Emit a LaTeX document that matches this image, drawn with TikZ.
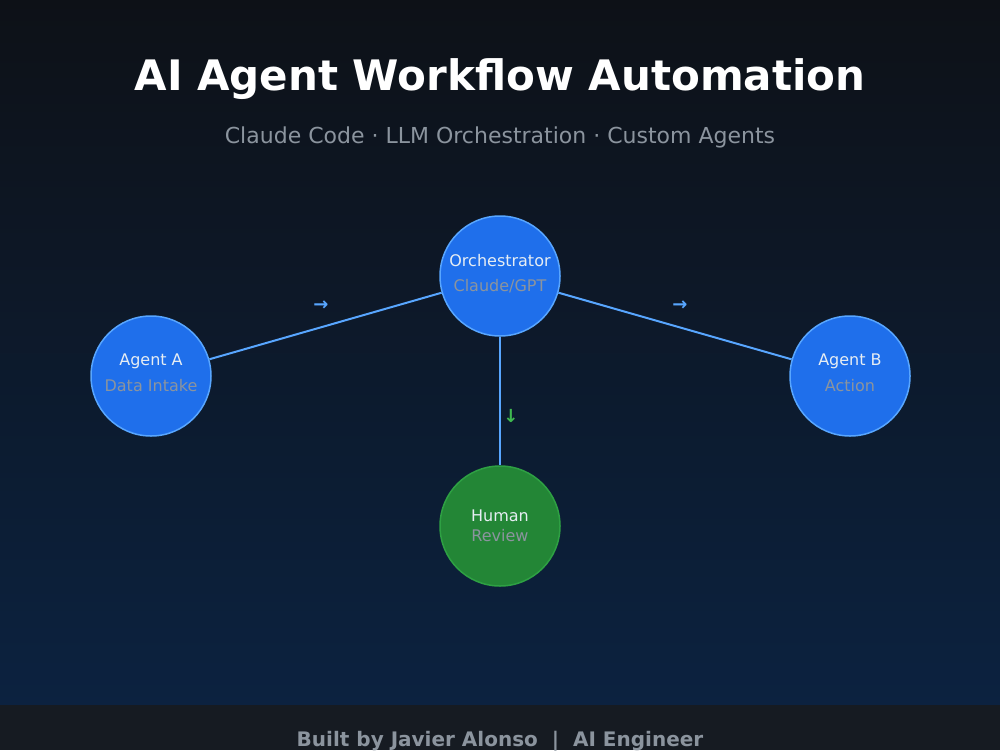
\documentclass[tikz,border=0pt]{standalone}
\usepackage{fontspec}
\setmainfont{DejaVu Sans}
\definecolor{bgtop}{HTML}{0D1117}
\definecolor{bgbot}{HTML}{0C2240}
\definecolor{footbg}{HTML}{161B22}
\definecolor{nodeblue}{HTML}{1F6FEB}
\definecolor{edgeblue}{HTML}{58A6FF}
\definecolor{nodegreen}{HTML}{238636}
\definecolor{edgegreen}{HTML}{2EA043}
\definecolor{arrgreen}{HTML}{3FB950}
\definecolor{txtw}{HTML}{E6EDF3}
\definecolor{txtg}{HTML}{8B949E}
\begin{document}
\begin{tikzpicture}[x=1pt,y=-1pt,
  agent/.style={circle,minimum size=120pt,inner sep=0pt,fill=nodeblue,draw=edgeblue,line width=1.5pt},
  human/.style={circle,minimum size=120pt,inner sep=0pt,fill=nodegreen,draw=edgegreen,line width=1.5pt},
  link/.style={draw=edgeblue,line width=2pt},
  ttl/.style={text=txtw,font=\fontsize{16}{19}\selectfont},
  sub/.style={text=txtg,font=\fontsize{16}{19}\selectfont},
  flow/.style={font=\fontsize{18}{20}\selectfont\bfseries}]
\useasboundingbox (0,0) rectangle (1000,750);
\clip (0,0) rectangle (1000,750);
\shade[top color=bgtop,bottom color=bgbot] (0,0) rectangle (1000,705);
\fill[footbg] (0,705) rectangle (1000,750);
\node[text=white,font=\fontsize{42}{50}\selectfont\bfseries] (title) at (500,79) {AI Agent Workflow Automation};
\node[text=txtg,font=\fontsize{22}{26}\selectfont] (subtitle) at (500,137) {Claude Code · LLM Orchestration · Custom Agents};
\node[agent] (orch) at (500,276) {};
\node[agent] (a) at (151,376) {};
\node[agent] (b) at (850,376) {};
\node[human] (h) at (500,526) {};
\draw[link] (a) -- (orch);
\draw[link] (orch) -- (b);
\draw[link] (orch) -- (h);
\node[ttl] (orcht) at (500,261) {Orchestrator};
\node[sub] (orchs) at (500,286) {Claude/GPT};
\node[ttl] (at) at (151,361) {Agent A};
\node[sub] (as) at (151,386) {Data Intake};
\node[ttl] (bt) at (850,361) {Agent B};
\node[sub] (bs) at (850,386) {Action};
\node[ttl] (ht) at (500,516) {Human};
\node[sub] (hs) at (500,536) {Review};
\node[flow,text=edgeblue] (f1) at (321,306) {→};
\node[flow,text=edgeblue] (f2) at (680,306) {→};
\node[flow,text=arrgreen] (f3) at (511,416) {↓};
\node[text=txtg,font=\fontsize{20}{24}\selectfont\bfseries] (foot) at (500,741) {Built by Javier Alonso \ |\ \ AI Engineer};
\end{tikzpicture}
\end{document}
